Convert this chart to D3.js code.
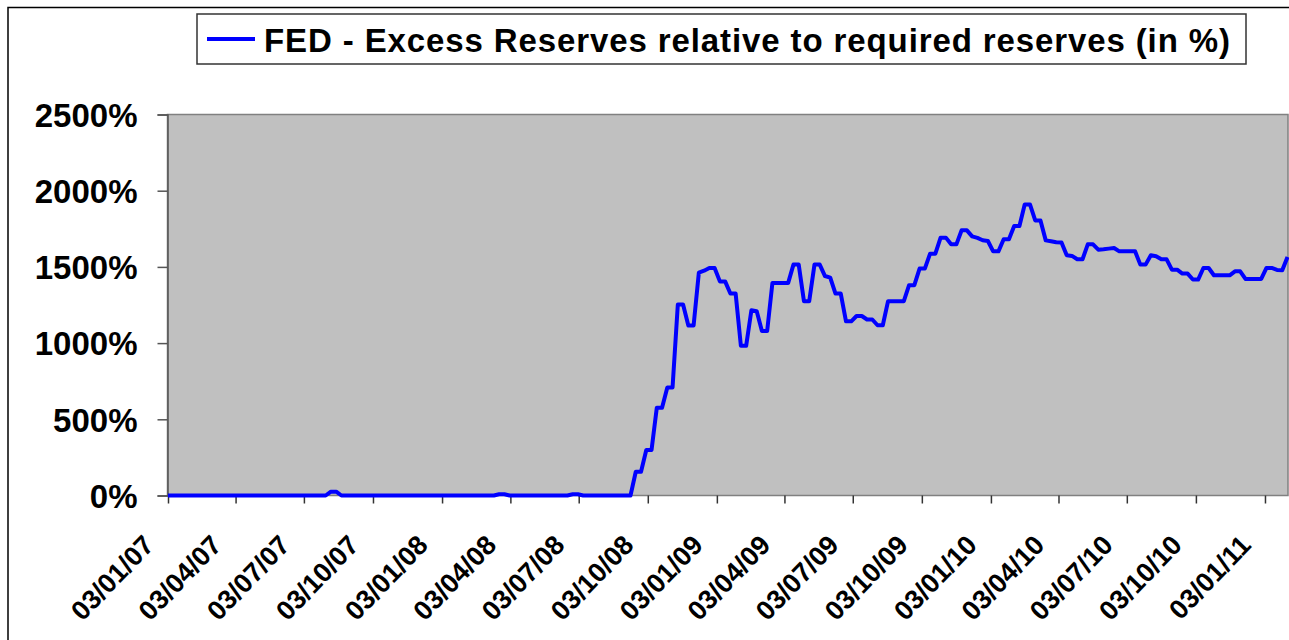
<!DOCTYPE html>
<html>
<head>
<meta charset="utf-8">
<script src="https://cdn.jsdelivr.net/npm/d3@7/dist/d3.min.js"></script>
<style>
  body { margin: 0; background: #fff; }
  svg text { font-family: "Liberation Sans", Arial, sans-serif; font-weight: bold; fill: #000; }
</style>
</head>
<body>
<svg id="chart" width="1289" height="640"></svg>
<script>
// weekly series, first week 03/01/07, one value per week (in %)
var startDate = '2007-01-03';
var seriesName = 'FED - Excess Reserves relative to required reserves (in %)';
var excessPct = [
    0, 0, 0, 0, 0, 0, 0, 0, 0, 0,
    0, 0, 0, 0, 0, 0, 0, 0, 0, 0,
    0, 0, 0, 0, 0, 0, 0, 0, 0, 0,
    0, 25, 25, 0, 0, 0, 0, 0, 0, 0,
    0, 0, 0, 0, 0, 0, 0, 0, 0, 0,
    0, 0, 0, 0, 0, 0, 0, 0, 0, 0,
    0, 0, 0, 8, 8, 0, 0, 0, 0, 0,
    0, 0, 0, 0, 0, 0, 0, 8, 8, 0,
    0, 0, 0, 0, 0, 0, 0, 0, 0, 156,
    156, 298, 298, 575, 575, 709, 709, 1253, 1253, 1115,
    1115, 1462, 1475, 1493, 1493, 1405, 1405, 1325, 1325, 982,
    982, 1216, 1210, 1080, 1080, 1395, 1395, 1395, 1395, 1515,
    1515, 1275, 1275, 1515, 1515, 1440, 1430, 1325, 1325, 1143,
    1143, 1178, 1178, 1155, 1155, 1117, 1117, 1275, 1275, 1275,
    1275, 1380, 1380, 1489, 1489, 1587, 1587, 1692, 1692, 1648,
    1648, 1740, 1740, 1700, 1690, 1675, 1670, 1602, 1602, 1681,
    1681, 1768, 1768, 1910, 1910, 1805, 1805, 1674, 1668, 1662,
    1660, 1576, 1572, 1550, 1550, 1648, 1648, 1613, 1616, 1620,
    1624, 1602, 1602, 1602, 1602, 1515, 1515, 1576, 1570, 1550,
    1550, 1482, 1482, 1456, 1456, 1417, 1417, 1493, 1493, 1445,
    1445, 1445, 1445, 1471, 1471, 1421, 1421, 1421, 1421, 1493,
    1493, 1480, 1478, 1565
];
var xTickLabels = ['03/01/07', '03/04/07', '03/07/07', '03/10/07', '03/01/08', '03/04/08',
    '03/07/08', '03/10/08', '03/01/09', '03/04/09', '03/07/09', '03/10/09',
    '03/01/10', '03/04/10', '03/07/10', '03/10/10', '03/01/11'];
var yTicks = [0, 500, 1000, 1500, 2000, 2500];

var parseDay = d3.timeParse('%Y-%m-%d');
var parseLabel = d3.timeParse('%d/%m/%y');
var t0 = parseDay(startDate);
var data = excessPct.map(function(v, i) {
    return { date: d3.timeDay.offset(t0, 7 * i), value: v };
});

var plot = { left: 167.5, right: 1288, top: 114.5, bottom: 495.5 };
var svg = d3.select('#chart');

// outer chart frame (right and bottom run off the picture)
svg.append('rect')
    .attr('x', 8).attr('y', 7.5)
    .attr('width', 1300).attr('height', 660)
    .attr('fill', 'none').attr('stroke', '#000').attr('stroke-width', 1.5);

var x = d3.scaleTime()
    .domain([t0, data[data.length - 1].date])
    .range([plot.left + 0.5, plot.right - 0.5]);
var y = d3.scaleLinear()
    .domain([0, 2500])
    .range([plot.bottom, plot.top]);

svg.append('rect')
    .attr('x', plot.left).attr('y', plot.top)
    .attr('width', plot.right - plot.left).attr('height', plot.bottom - plot.top)
    .attr('fill', '#c0c0c0').attr('stroke', '#808080').attr('stroke-width', 1.5);

// y axis
var yAxis = d3.axisLeft(y)
    .tickValues(yTicks)
    .tickSize(10)
    .tickPadding(20)
    .tickFormat(function(d) { return d + '%'; });
var gy = svg.append('g')
    .attr('transform', 'translate(' + plot.left + ',0)')
    .call(yAxis);
gy.select('.domain').attr('stroke', '#555').attr('stroke-width', 1.5);
gy.selectAll('.tick line').attr('stroke', '#555').attr('stroke-width', 1.5);
gy.selectAll('.tick text')
    .attr('font-size', 33)
    .attr('font-family', '"Liberation Sans", Arial, sans-serif')
    .attr('dy', '0.36em');

// x axis, ticks every quarter on the 3rd
var tickDates = xTickLabels.map(function(s) { return parseLabel(s); });
var xAxis = d3.axisBottom(x)
    .tickValues(tickDates)
    .tickSize(8)
    .tickFormat(d3.timeFormat('%d/%m/%y'));
var gx = svg.append('g')
    .attr('transform', 'translate(0,' + plot.bottom + ')')
    .call(xAxis);
gx.select('.domain').remove();
gx.selectAll('.tick line').attr('stroke', '#333').attr('stroke-width', 1.5);
gx.selectAll('.tick text')
    .attr('font-size', 27)
    .attr('font-family', '"Liberation Sans", Arial, sans-serif')
    .attr('text-anchor', 'end')
    .attr('dy', null)
    .attr('y', null)
    .attr('transform', 'translate(-13,51) rotate(-46)');

// the series
var line = d3.line()
    .x(function(d) { return x(d.date); })
    .y(function(d) { return y(d.value); });
svg.append('path')
    .datum(data)
    .attr('d', line)
    .attr('fill', 'none')
    .attr('stroke', '#0000ff')
    .attr('stroke-width', 4)
    .attr('stroke-linejoin', 'round');

// legend
var lg = svg.append('g').attr('class', 'legend');
lg.append('rect')
    .attr('x', 197).attr('y', 14)
    .attr('width', 1049).attr('height', 50)
    .attr('fill', '#fff').attr('stroke', '#333').attr('stroke-width', 1.5);
lg.append('line')
    .attr('x1', 207).attr('x2', 255)
    .attr('y1', 39).attr('y2', 39)
    .attr('stroke', '#0000ff').attr('stroke-width', 4);
lg.append('text')
    .attr('x', 264).attr('y', 52)
    .attr('font-size', 33)
    .attr('textLength', 966)
    .attr('lengthAdjust', 'spacing')
    .text(seriesName);
</script>
</body>
</html>
